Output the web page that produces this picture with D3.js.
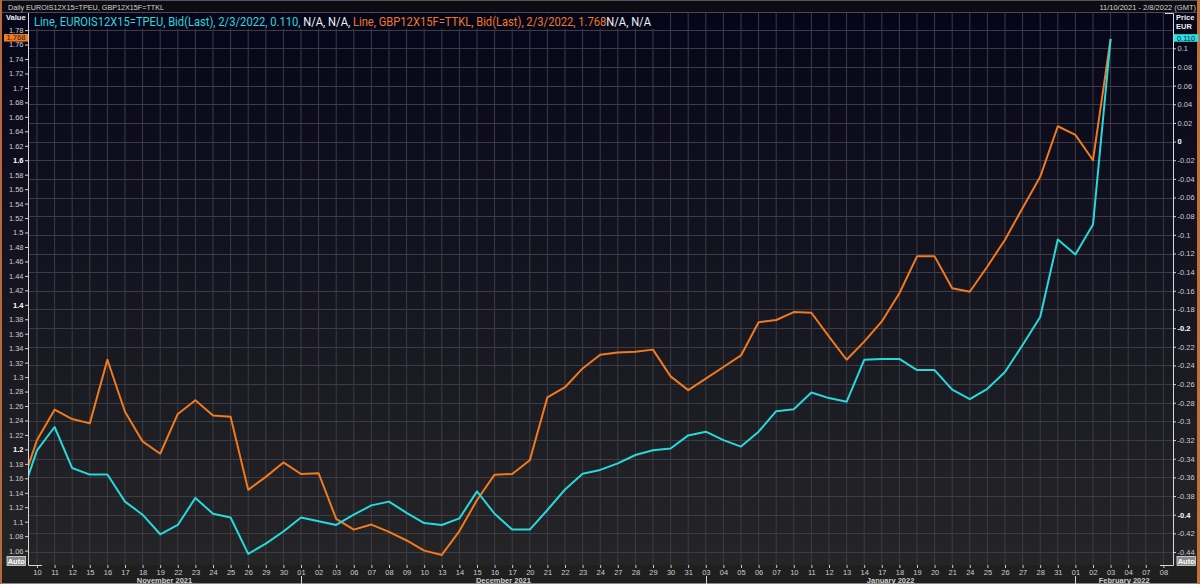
<!DOCTYPE html>
<html>
<head>
<meta charset="utf-8">
<script src="https://cdn.jsdelivr.net/npm/d3@7"></script>
<style>
  html, body { margin: 0; padding: 0; background: #141414; }
  svg { display: block; font-family: "Liberation Sans", Arial, sans-serif; }
</style>
</head>
<body>
<svg width="1200" height="584"></svg>
<script>
///////////////////////////////////////////////////////
// DATA
///////////////////////////////////////////////////////

// business days on the axis (first one sits just left of the plot and is clipped)
var dates = ["2021-11-09","2021-11-10","2021-11-11","2021-11-12","2021-11-15","2021-11-16","2021-11-17","2021-11-18","2021-11-19","2021-11-22","2021-11-23","2021-11-24","2021-11-25","2021-11-26","2021-11-29","2021-11-30",
  "2021-12-01","2021-12-02","2021-12-03","2021-12-06","2021-12-07","2021-12-08","2021-12-09","2021-12-10","2021-12-13","2021-12-14","2021-12-15","2021-12-16","2021-12-17","2021-12-20","2021-12-21","2021-12-22","2021-12-23","2021-12-24","2021-12-27","2021-12-28","2021-12-29","2021-12-30","2021-12-31",
  "2022-01-03","2022-01-04","2022-01-05","2022-01-06","2022-01-07","2022-01-10","2022-01-11","2022-01-12","2022-01-13","2022-01-14","2022-01-17","2022-01-18","2022-01-19","2022-01-20","2022-01-21","2022-01-24","2022-01-25","2022-01-26","2022-01-27","2022-01-28","2022-01-31",
  "2022-02-01","2022-02-02","2022-02-03","2022-02-04","2022-02-07","2022-02-08"];

// GBP12X15F=TTKL, left axis (orange)
var gbpValues = [1.141, 1.213, 1.255, 1.242, 1.236, 1.324, 1.252, 1.211, 1.194, 1.249, 1.268, 1.247, 1.245, 1.144, 1.162, 1.182,
  1.166, 1.167, 1.104, 1.089, 1.096, 1.086, 1.074, 1.060, 1.054, 1.087, 1.130, 1.165, 1.166, 1.185, 1.272, 1.286, 1.312, 1.331, 1.334, 1.335, 1.338, 1.301, 1.282,
  1.298, 1.314, 1.330, 1.376, 1.379, 1.390, 1.389, 1.356, 1.324, 1.349, 1.377, 1.416, 1.467, 1.467, 1.423, 1.418, 1.453, 1.490, 1.534, 1.577, 1.647,
  1.635, 1.600, 1.768, null, null, null];

// EUROIS12X15=TPEU, right axis (cyan)
var euroisValues = [-0.386, -0.331, -0.306, -0.350, -0.357, -0.357, -0.386, -0.400, -0.421, -0.411, -0.382, -0.399, -0.403, -0.442, -0.431, -0.418,
  -0.403, -0.407, -0.411, -0.400, -0.390, -0.386, -0.398, -0.409, -0.411, -0.404, -0.375, -0.399, -0.416, -0.416, -0.395, -0.373, -0.356, -0.352, -0.345, -0.336, -0.331, -0.329, -0.315,
  -0.311, -0.320, -0.327, -0.311, -0.289, -0.287, -0.269, -0.275, -0.279, -0.234, -0.233, -0.233, -0.245, -0.245, -0.266, -0.276, -0.265, -0.247, -0.218, -0.188, -0.105,
  -0.121, -0.089, 0.110, null, null, null];

var leftTicks = d3.range(53, 90).map(d => d / 50);     // 1.06 .. 1.78
var rightTicks = d3.range(-22, 6).map(d => d / 50);    // -0.44 .. 0.1
var gridTicks = d3.range(-22, 7).map(d => d / 50);     // -0.44 .. 0.12
var leftBold = [1.2, 1.4, 1.6];
var rightBold = [0, -0.2, -0.4];
var monthNames = ["January", "February", "March", "April", "May", "June", "July", "August", "September", "October", "November", "December"];

var titleText = "Daily EUROIS12X15=TPEU, GBP12X15F=TTKL";
var rangeText = "11/10/2021 - 2/8/2022 (GMT)";
var legendParts = [
  {text: "Line, EUROIS12X15=TPEU, Bid(Last), 2/3/2022, 0.110, ", color: "#2ad8dc"},
  {text: "N/A, N/A, ", color: "#f2f2f2"},
  {text: "Line, GBP12X15F=TTKL, Bid(Last), 2/3/2022, 1.768", color: "#f07a22"},
  {text: "N/A, N/A", color: "#f2f2f2"}
];

///////////////////////////////////////////////////////
// SETUP
///////////////////////////////////////////////////////
var W = 1200, H = 584;
var plot = {left: 28, right: 1173, top: 13, bottom: 565};
var orange = "#f27a1e", cyan = "#26dadc";
var fmt = v => String(+v.toFixed(2));

var svg = d3.select("svg");

var xScale = d3.scalePoint().domain(dates).range([19.4, 1163.4]);
var yLeft = d3.scaleLinear().domain([1.06, 1.78]).range([550.6, 30.1]);
var yRight = d3.scaleLinear().domain([-0.44, 0.1]).range([552, 48.3]);

var defs = svg.append("defs");
var grad = defs.append("linearGradient").attr("id", "bg").attr("x1", 0).attr("y1", 0).attr("x2", 0).attr("y2", 1);
grad.append("stop").attr("offset", "0%").attr("stop-color", "#05051a");
grad.append("stop").attr("offset", "100%").attr("stop-color", "#262628");

defs.append("clipPath").attr("id", "plot-clip")
  .append("rect")
  .attr("x", plot.left).attr("y", plot.top)
  .attr("width", plot.right - plot.left).attr("height", plot.bottom - plot.top);

// background
svg.append("rect").attr("width", W).attr("height", H).attr("fill", "url(#bg)");
svg.append("rect").attr("width", W).attr("height", plot.top).attr("fill", "#0c0c12");
svg.append("rect").attr("y", plot.bottom).attr("width", W).attr("height", H - plot.bottom).attr("fill", "#1f1f20");
svg.append("line").attr("x1", 0).attr("x2", W).attr("y1", 12.5).attr("y2", 12.5).attr("stroke", "#4a4a50");
svg.append("line").attr("x1", 0).attr("x2", W).attr("y1", 0.5).attr("y2", 0.5).attr("stroke", "#55555a");
svg.append("line").attr("x1", 0).attr("x2", W).attr("y1", 583.5).attr("y2", 583.5).attr("stroke", "#8a8a8a");
svg.append("rect").attr("x", 0).attr("width", 2).attr("height", H).attr("fill", "#b8683a");
svg.append("rect").attr("x", 1197).attr("width", 3).attr("height", H).attr("fill", "#c0703a");

///////////////////////////////////////////////////////
// GRID + LINES
///////////////////////////////////////////////////////
var chart = svg.append("g").attr("clip-path", "url(#plot-clip)");

chart.append("g").selectAll("line").data(dates).join("line")
  .attr("x1", d => xScale(d)).attr("x2", d => xScale(d))
  .attr("y1", plot.top).attr("y2", plot.bottom)
  .attr("stroke", "#3c3c42").attr("stroke-width", 1);

chart.append("g").selectAll("line").data(gridTicks).join("line")
  .attr("x1", plot.left).attr("x2", plot.right)
  .attr("y1", d => Math.round(yRight(d)) + 0.5).attr("y2", d => Math.round(yRight(d)) + 0.5)
  .attr("stroke", "#3c3c42").attr("stroke-width", 1);

var lineLeft = d3.line().defined(d => d != null).x((d, i) => xScale(dates[i])).y(d => yLeft(d));
var lineRight = d3.line().defined(d => d != null).x((d, i) => xScale(dates[i])).y(d => yRight(d));

chart.append("path").datum(gbpValues).attr("d", lineLeft)
  .attr("fill", "none").attr("stroke", orange).attr("stroke-width", 2).attr("stroke-linejoin", "round");
chart.append("path").datum(euroisValues).attr("d", lineRight)
  .attr("fill", "none").attr("stroke", cyan).attr("stroke-width", 2).attr("stroke-linejoin", "round");

// legend strip: one text, coloured runs, squeezed horizontally to fit
svg.append("rect").attr("x", plot.left + 1).attr("y", plot.top + 0.5).attr("width", 626).attr("height", 15)
  .attr("fill", "#05051a");
var legend = svg.append("text").attr("x", 0).attr("y", 0)
  .attr("font-family", "Roboto, 'Noto Sans', sans-serif").attr("font-size", 13)
  .attr("xml:space", "preserve").style("white-space", "pre");
legendParts.forEach(p => {
  legend.append("tspan").attr("fill", p.color).text(p.text);
});
var legendW = legend.node().getComputedTextLength();
legend.attr("transform", "translate(34,26) scale(" + (618 / legendW) + ",1)");

///////////////////////////////////////////////////////
// AXES
///////////////////////////////////////////////////////
function styleAxis(g, boldList) {
  g.select(".domain").remove();
  g.selectAll(".tick line").attr("stroke", "#cfcfcf");
  g.selectAll(".tick text")
    .attr("fill", d => boldList.some(b => Math.abs(b - d) < 1e-9) ? "#ffffff" : "#cdcdcd")
    .attr("font-weight", d => boldList.some(b => Math.abs(b - d) < 1e-9) ? "bold" : "normal")
    .attr("font-size", 7.5);
}

var leftAxis = svg.append("g").attr("transform", "translate(" + plot.left + ",0)")
  .call(d3.axisLeft(yLeft).tickValues(leftTicks).tickFormat(fmt).tickSize(3).tickPadding(1.5))
  .call(g => styleAxis(g, leftBold));

var rightAxis = svg.append("g").attr("transform", "translate(" + plot.right + ",0)")
  .call(d3.axisRight(yRight).tickValues(rightTicks).tickFormat(fmt).tickSize(3).tickPadding(1.5))
  .call(g => styleAxis(g, rightBold));

var xAxis = svg.append("g").attr("transform", "translate(0," + plot.bottom + ")")
  .call(d3.axisBottom(xScale).tickValues(dates.filter(d => xScale(d) > plot.left)).tickFormat(d => d.slice(8)).tickSize(3).tickPadding(1.5))
  .call(g => styleAxis(g, []));

// axis frame lines + corners
var frame = svg.append("g").attr("stroke", "#d8d8d8").attr("fill", "none");
frame.append("path").attr("d", "M" + (plot.left + 0.5) + "," + plot.top + "V" + (plot.bottom + 0.5) + "H" + (plot.left + 14));
frame.append("path").attr("d", "M" + (plot.right - 8) + "," + (plot.top + 0.5) + "H" + (plot.right + 0.5) + "V" + (plot.bottom + 0.5) + "H" + (plot.right - 13));

// month labels and separators
var months = d3.groups(dates, d => d.slice(0, 7));
months.forEach((m, i) => {
  var x0 = Math.max(plot.left, xScale(m[1][0]));
  var x1 = i < months.length - 1 ? xScale(months[i + 1][1][0]) : plot.right;
  var parts = m[0].split("-");
  svg.append("text").attr("x", (x0 + x1) / 2).attr("y", 582.5)
    .attr("text-anchor", "middle").attr("font-size", 7.5).attr("font-weight", "bold").attr("fill", "#d0d0d0")
    .text(monthNames[+parts[1] - 1] + " " + parts[0]);
  if (i > 0) {
    svg.append("line").attr("x1", Math.round(x0) + 0.5).attr("x2", Math.round(x0) + 0.5)
      .attr("y1", 576).attr("y2", 584).attr("stroke", "#d8d8d8");
  }
});

///////////////////////////////////////////////////////
// LABELS
///////////////////////////////////////////////////////
svg.append("text").attr("x", 8).attr("y", 9.5).attr("font-size", 7.5).attr("fill", "#d4d4d4")
  .attr("textLength", 156).attr("lengthAdjust", "spacingAndGlyphs").text(titleText);
svg.append("text").attr("x", 1196).attr("y", 9.5).attr("font-size", 7.5).attr("fill", "#d4d4d4")
  .attr("text-anchor", "end").text(rangeText);

svg.append("text").attr("x", 6).attr("y", 19.5).attr("font-size", 7.5).attr("font-weight", "bold").attr("fill", "#f0f0f0").text("Value");
svg.append("text").attr("x", 1176).attr("y", 20).attr("font-size", 7.5).attr("font-weight", "bold").attr("fill", "#f0f0f0").text("Price");
svg.append("text").attr("x", 1176).attr("y", 29).attr("font-size", 7.5).attr("font-weight", "bold").attr("fill", "#f0f0f0").text("EUR");

// last value boxes
var lastGbp = gbpValues.filter(d => d != null).pop();
var lastEur = euroisValues.filter(d => d != null).pop();
var yG = yLeft(lastGbp) - 1, yE = yRight(lastEur) - 1;
svg.append("rect").attr("x", 4).attr("y", yG - 3.8).attr("width", 24).attr("height", 7.6).attr("fill", "#ee7a24");
svg.append("text").attr("x", 16).attr("y", yG + 2.7).attr("text-anchor", "middle").attr("font-size", 7.5).attr("fill", "#1a1a1a").text(lastGbp.toFixed(3));
svg.append("rect").attr("x", 1173.5).attr("y", yE - 3.8).attr("width", 25).attr("height", 7.6).attr("fill", "#2de0e6");
svg.append("text").attr("x", 1186).attr("y", yE + 2.7).attr("text-anchor", "middle").attr("font-size", 7.5).attr("fill", "#1a1a1a").text(lastEur.toFixed(3));

// Auto buttons
[[7, 556.5], [1177, 556.5]].forEach(p => {
  svg.append("rect").attr("x", p[0]).attr("y", p[1]).attr("width", 18.5).attr("height", 9)
    .attr("fill", "#8a8a8a").attr("stroke", "#e0e0e0").attr("stroke-width", 0.8);
  svg.append("text").attr("x", p[0] + 9.25).attr("y", p[1] + 7).attr("text-anchor", "middle")
    .attr("font-size", 7.5).attr("font-weight", "bold").attr("fill", "#ffffff").text("Auto");
});
</script>
</body>
</html>
